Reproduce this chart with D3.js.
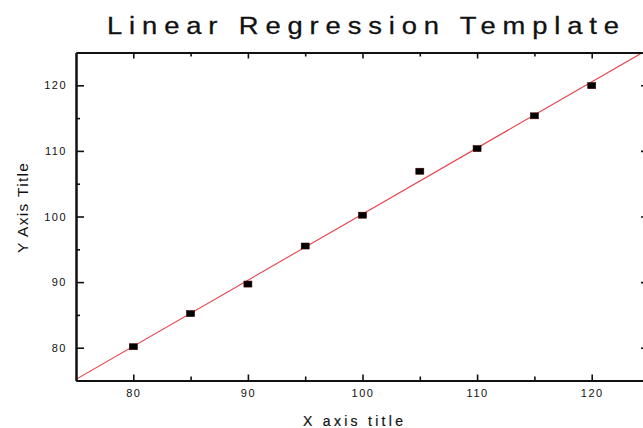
<!DOCTYPE html>
<html>
<head>
<meta charset="utf-8">
<script src="https://cdn.jsdelivr.net/npm/d3@7"></script>
<style>
  html, body { margin: 0; padding: 0; background: #fff; }
  svg { display: block; }
  text { font-family: "Liberation Sans", Arial, sans-serif; }
</style>
</head>
<body>
<script>
// ---- data ----
const xValues = [80, 85, 90, 95, 100, 105, 110, 115, 120];
const yValues = [80.15, 85.2, 89.7, 95.5, 100.2, 106.9, 110.35, 115.35, 119.95];
const xMajorTicks = [80, 90, 100, 110, 120];
const xMinorTicks = [85, 95, 105, 115];
const yMajorTicks = [80, 90, 100, 110, 120];
const yMinorTicks = [85, 95, 105, 115];
const xDomain = [75, 125];
const yDomain = [75, 125];
const titleText = "Linear Regression Template";
const xTitle = "X axis title";
const yTitle = "Y Axis Title";

// ---- layout ----
const W = 643, H = 428;
const mLeft = 76, mRight = 649, mTop = 52.5, mBottom = 380.5;

const svg = d3.select("body").append("svg").attr("width", W).attr("height", H);

const x = d3.scaleLinear().domain(xDomain).range([mLeft, mRight]);
const y = d3.scaleLinear().domain(yDomain).range([mBottom, mTop]);

// regression
const n = xValues.length;
const mx = d3.mean(xValues), my = d3.mean(yValues);
let sxy = 0, sxx = 0;
for (let i = 0; i < n; i++) { sxy += (xValues[i]-mx)*(yValues[i]-my); sxx += (xValues[i]-mx)**2; }
const slope = sxy / sxx, intercept = my - slope * mx;

svg.append("clipPath").attr("id", "clip").append("rect")
  .attr("x", mLeft).attr("y", mTop).attr("width", mRight-mLeft).attr("height", mBottom-mTop);

svg.append("line")
  .attr("clip-path", "url(#clip)")
  .attr("x1", x(xDomain[0])).attr("y1", y(intercept + slope*xDomain[0]))
  .attr("x2", x(xDomain[1])).attr("y2", y(intercept + slope*xDomain[1]))
  .attr("stroke", "#e8404a").attr("stroke-width", 1.1);

// points
svg.append("g").selectAll("rect").data(xValues.map((v,i)=>[v,yValues[i]])).enter().append("rect")
  .attr("x", d => x(d[0]) - 4).attr("y", d => y(d[1]) - 3)
  .attr("width", 8).attr("height", 6)
  .attr("fill", "#000").attr("stroke", "#3a0000").attr("stroke-width", 0.6);

function styleAxis(g) {
  g.select(".domain").attr("stroke", "#111").attr("stroke-width", 2);
  g.selectAll(".tick line").attr("stroke", "#111").attr("stroke-width", 1.6);
  g.selectAll(".tick text").attr("fill", "#111").attr("font-size", 11)
    .attr("letter-spacing", "1.5px").attr("font-family", "Liberation Sans, Arial, sans-serif");
}

// bottom
svg.append("g").attr("transform", `translate(0,${mBottom})`)
  .call(d3.axisBottom(x).tickValues(xMajorTicks).tickSizeInner(-6).tickSizeOuter(0).tickPadding(9))
  .call(styleAxis);
svg.append("g").attr("transform", `translate(0,${mBottom})`)
  .call(d3.axisBottom(x).tickValues(xMinorTicks).tickSizeInner(-4).tickSizeOuter(0).tickFormat(""))
  .call(styleAxis);
// top
svg.append("g").attr("transform", `translate(0,${mTop})`)
  .call(d3.axisTop(x).tickValues(xMajorTicks).tickSizeInner(-6).tickSizeOuter(0).tickFormat(""))
  .call(styleAxis);
svg.append("g").attr("transform", `translate(0,${mTop})`)
  .call(d3.axisTop(x).tickValues(xMinorTicks).tickSizeInner(-4).tickSizeOuter(0).tickFormat(""))
  .call(styleAxis);
// left
svg.append("g").attr("transform", `translate(${mLeft},0)`)
  .call(d3.axisLeft(y).tickValues(yMajorTicks).tickSizeInner(-8).tickSizeOuter(0).tickPadding(9))
  .call(styleAxis);
svg.append("g").attr("transform", `translate(${mLeft},0)`)
  .call(d3.axisLeft(y).tickValues(yMinorTicks).tickSizeInner(-4).tickSizeOuter(0).tickFormat(""))
  .call(styleAxis);
// right
svg.append("g").attr("transform", `translate(${mRight},0)`)
  .call(d3.axisRight(y).tickValues(yMajorTicks).tickSizeInner(-8).tickSizeOuter(0).tickFormat(""))
  .call(styleAxis);
svg.append("g").attr("transform", `translate(${mRight},0)`)
  .call(d3.axisRight(y).tickValues(yMinorTicks).tickSizeInner(-4).tickSizeOuter(0).tickFormat(""))
  .call(styleAxis);

// titles
const sx = 1.14;
svg.append("g").attr("transform", `translate(107,33.5) scale(${sx},1)`)
  .append("text").attr("x", 0).attr("y", 0)
  .attr("font-size", 24).attr("fill", "#111")
  .attr("stroke", "#111").attr("stroke-width", 0.3)
  .attr("textLength", 512 / sx).attr("lengthAdjust", "spacing")
  .text(titleText);

svg.append("text").attr("x", 303).attr("y", 426)
  .attr("font-size", 14).attr("fill", "#111")
  .attr("stroke", "#111").attr("stroke-width", 0.2)
  .attr("textLength", 100).attr("lengthAdjust", "spacing")
  .text(xTitle);

svg.append("text").attr("transform", "translate(27.5,253) rotate(-90)")
  .attr("x", 0).attr("y", 0)
  .attr("font-size", 15.5).attr("fill", "#111")
  .attr("textLength", 90).attr("lengthAdjust", "spacing")
  .text(yTitle);
</script>
</body>
</html>
